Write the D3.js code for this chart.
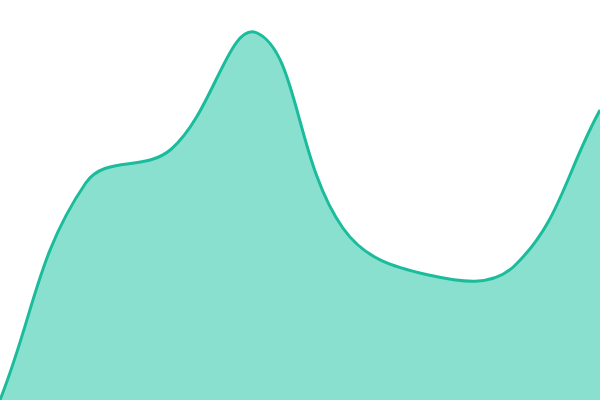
<!DOCTYPE html>
<html lang="en">
<head>
    <meta charset="UTF-8">
    <title>Area</title>
    <script src="https://d3js.org/d3.v7.min.js"></script>
    <style>
        body { margin: 0; background: #fff; }
        svg { display: block; }
    </style>
</head>
<body>
    <div id="chart"></div>
    <script>
        // values, evenly spaced along x
        var steps = [0, 1, 2, 3, 4, 5, 6, 7];
        var values = [0, 54.25, 62.75, 91.75, 43, 31.25, 33.5, 72.5];

        var width = 600, height = 400;
        var tension = 0.4;

        // spline whose control points are weighted by the distance to the neighbours
        function SplineCurve(context) {
            this._context = context;
        }
        SplineCurve.prototype = {
            areaStart: function () { this._line = 0; },
            areaEnd: function () { this._line = NaN; },
            lineStart: function () { this._pts = []; },
            point: function (x, y) { this._pts.push([+x, +y]); },
            lineEnd: function () {
                var p = this._pts, n = p.length, ctx = this._context;
                if (n) {
                    if (this._line) ctx.lineTo(p[0][0], p[0][1]);
                    else ctx.moveTo(p[0][0], p[0][1]);
                    // control points around every point
                    var cps = p.map(function (cur, i) {
                        var prev = p[Math.max(i - 1, 0)], next = p[Math.min(i + 1, n - 1)];
                        var d01 = Math.hypot(cur[0] - prev[0], cur[1] - prev[1]);
                        var d12 = Math.hypot(next[0] - cur[0], next[1] - cur[1]);
                        var s01 = d01 / (d01 + d12), s12 = d12 / (d01 + d12);
                        if (isNaN(s01)) s01 = 0;
                        if (isNaN(s12)) s12 = 0;
                        var fa = tension * s01, fb = tension * s12;
                        var dx = next[0] - prev[0], dy = next[1] - prev[1];
                        return {
                            inX: cur[0] - fa * dx, inY: cur[1] - fa * dy,
                            outX: cur[0] + fb * dx, outY: cur[1] + fb * dy
                        };
                    });
                    for (var i = 1; i < n; i++) {
                        ctx.bezierCurveTo(cps[i - 1].outX, cps[i - 1].outY,
                            cps[i].inX, cps[i].inY, p[i][0], p[i][1]);
                    }
                }
                if (this._line || (this._line !== 0 && n === 1)) ctx.closePath();
                this._line = 1 - this._line;
            }
        };
        function curveSpline(context) { return new SplineCurve(context); }

        var svg = d3.select("#chart").append("svg")
            .attr("width", width)
            .attr("height", height);

        var x = d3.scaleLinear().domain([0, 7]).range([0, width]);
        var y = d3.scaleLinear().domain([0, 100]).range([height, 0]);

        var data = steps.map((s, i) => ({ s: s, v: values[i] }));

        var area = d3.area()
            .x(d => x(d.s))
            .y0(y(0))
            .y1(d => y(d.v))
            .curve(curveSpline);

        var line = d3.line()
            .x(d => x(d.s))
            .y(d => y(d.v))
            .curve(curveSpline);

        svg.append("path")
            .datum(data)
            .attr("d", area)
            .attr("fill", "#8ae0cf");

        svg.append("path")
            .datum(data)
            .attr("d", line)
            .attr("fill", "none")
            .attr("stroke", "#1abc9c")
            .attr("stroke-width", 3);
    </script>
</body>
</html>
